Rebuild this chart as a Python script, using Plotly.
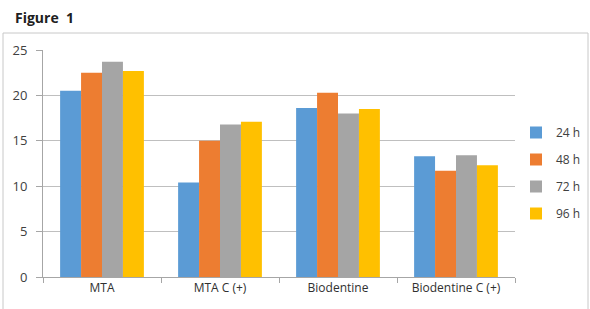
import plotly.graph_objects as go

categories = ["MTA", "MTA C (+)", "Biodentine", "Biodentine C (+)"]
series_names = ["24 h", "48 h", "72 h", "96 h"]
v24 = [20.5, 10.4, 18.6, 13.3]
v48 = [22.5, 15.0, 20.3, 11.7]
v72 = [23.7, 16.8, 18.0, 13.4]
v96 = [22.7, 17.1, 18.5, 12.3]
colors = ["#5B9BD5", "#ED7D31", "#A5A5A5", "#FFC000"]
y_ticks = [0, 5, 10, 15, 20, 25]

W, H = 590, 309
L, R, T, B = 43, 75, 50, 32

fig = go.Figure()
for name, vals, c in zip(series_names, [v24, v48, v72, v96], colors):
    fig.add_trace(go.Bar(x=categories, y=vals, name=name, legendgroup=name,
                         marker=dict(color=c, line=dict(width=0))))

fig.update_layout(
    width=W, height=H,
    margin=dict(l=L, r=R, t=T, b=B, autoexpand=False),
    paper_bgcolor="white", plot_bgcolor="white",
    barmode="group", bargap=0.29, bargroupgap=0,
    font=dict(family="Open Sans", size=12, color="#404040"),
    legend=dict(xref="container", yref="container", x=516 / W, y=1 - 118 / H,
                xanchor="left", yanchor="top",
                font=dict(size=12, color="#404040"), itemwidth=30,
                tracegroupgap=8, bgcolor="rgba(0,0,0,0)"),
    shapes=[dict(type="rect", xref="paper", yref="paper",
                 x0=(3 - L) / (W - L - R), x1=(588 - L) / (W - L - R),
                 y0=-(312 - (H - B)) / (H - T - B), y1=1 + (T - 33) / (H - T - B),
                 line=dict(color="#C8C8C8", width=1))],
    annotations=[dict(text="<b>Figure  1</b>", xref="paper", yref="paper",
                      x=(13 - L) / (W - L - R), y=1 + (T - 29) / (H - T - B),
                      xanchor="left", yanchor="bottom", showarrow=False,
                      font=dict(size=14, color="#202020", family="Open Sans"))],
)
fig.update_yaxes(range=[0, 25], tickvals=y_ticks, showgrid=True, gridcolor="#BFBFBF", gridwidth=1,
                 showline=True, linecolor="#A6A6A6", ticks="outside", ticklen=6, tickcolor="#A6A6A6",
                 zeroline=False, automargin=False, ticklabelstandoff=6,
                 tickfont=dict(size=13, color="#404040"))
fig.update_xaxes(showline=True, linecolor="#A6A6A6", ticks="outside", ticklen=5, tickcolor="#A6A6A6",
                 tickson="boundaries", automargin=False, tickfont=dict(size=12, color="#303030"))

fig.write_html("out.html", config={"displayModeBar": False},
               post_script="document.body.style.margin='0';")
